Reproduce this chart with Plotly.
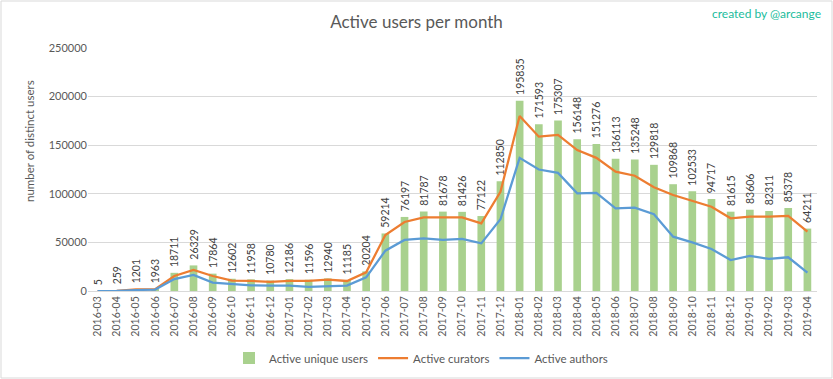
import plotly.graph_objects as go

months = ["2016-03","2016-04","2016-05","2016-06","2016-07","2016-08","2016-09","2016-10","2016-11","2016-12",
          "2017-01","2017-02","2017-03","2017-04","2017-05","2017-06","2017-07","2017-08","2017-09","2017-10","2017-11","2017-12",
          "2018-01","2018-02","2018-03","2018-04","2018-05","2018-06","2018-07","2018-08","2018-09","2018-10","2018-11","2018-12",
          "2019-01","2019-02","2019-03","2019-04"]

unique_users = [5,259,1201,1963,18711,26329,17864,12602,11958,10780,
                12186,11596,12940,11185,20204,59214,76197,81787,81678,81426,77122,112850,
                195835,171593,175307,156148,151276,136113,135248,129818,109868,102533,94717,81615,
                83606,82311,85378,64211]

curators = [0,200,1700,1800,15400,21600,15400,10600,10300,9300,
            10300,10500,11600,10300,19200,57600,71000,75800,75800,75800,69600,102000,
            180000,158800,160500,145000,137000,122800,118600,106700,98800,92600,86700,74800,
            76500,76500,77200,61000]

authors = [0,100,1000,1500,12300,16500,8600,6900,5900,5500,
           5500,4300,5000,5500,14000,41500,52500,54200,52500,53500,49000,73800,
           137000,125000,121500,100500,101000,85000,85700,78900,55900,50000,43200,31900,
           36000,33000,34700,18800]

FONT = "Lato, 'Open Sans', sans-serif"
GRAY = "#595959"

L, R, T, B = 88, 16, 48, 88
W, H = 833, 379
PW, PH = W - L - R, H - T - B

def px_x(x):
    return (x - L) / PW

def px_y(y):
    return (H - B - y) / PH

fig = go.Figure()
fig.add_trace(go.Bar(
    x=months, y=unique_users, name="Active unique users",
    marker=dict(color="#A9D18E", line=dict(width=0)),
    text=["\u00a0" + str(v) for v in unique_users], textposition="outside", textangle=-90,
    textfont=dict(size=10.5, color="#404040", family=FONT),
    cliponaxis=False, constraintext="none",
))
fig.add_trace(go.Scatter(
    x=months, y=curators, name="Active curators", mode="lines",
    line=dict(color="#ED7D31", width=2.25),
))
fig.add_trace(go.Scatter(
    x=months, y=authors, name="Active authors", mode="lines",
    line=dict(color="#5B9BD5", width=2.25),
))

fig.update_layout(
    width=W, height=H,
    margin=dict(l=L, r=R, t=T, b=B, autoexpand=False),
    paper_bgcolor="white", plot_bgcolor="white",
    font=dict(family=FONT, color=GRAY, size=11),
    bargap=0.6,
    title=dict(text="Active users per month", x=0.5, xanchor="center", y=1 - 22/379, yanchor="middle",
               font=dict(size=17, color=GRAY, family=FONT)),
    showlegend=True,
    legend=dict(orientation="h", x=px_x(421), xanchor="center", y=px_y(358), yanchor="middle",
                font=dict(size=11.5, color=GRAY), traceorder="normal", itemwidth=30),
    xaxis=dict(type="category", tickangle=-90, tickfont=dict(size=10.5, color=GRAY),
               showgrid=False, showline=True, linecolor="#D9D9D9", ticks="", automargin=False),
    yaxis=dict(range=[0, 250000], dtick=50000, tickformat="d", gridcolor="#D9D9D9",
               zeroline=False, showline=False, tickfont=dict(size=11, color=GRAY), automargin=False),
    annotations=[
        dict(text="created by @arcange", xref="paper", yref="paper",
             x=px_x(823), xanchor="right", y=px_y(14), yanchor="middle",
             showarrow=False, font=dict(size=12, color="#1ABC9C", family=FONT)),
        dict(text="number of distinct users", xref="paper", yref="paper",
             x=px_x(29), xanchor="center", y=px_y(141), yanchor="middle", textangle=-90,
             showarrow=False, font=dict(size=11.5, color=GRAY, family=FONT)),
    ],
    shapes=[dict(type="rect", xref="paper", yref="paper",
                 x0=px_x(1), x1=px_x(832), y0=px_y(378), y1=px_y(1),
                 line=dict(color="#D9D9D9", width=1), layer="below")],
)

fig.write_html("out.html", config={"displayModeBar": False},
               post_script="document.body.style.margin='0';document.body.style.overflow='hidden';")
